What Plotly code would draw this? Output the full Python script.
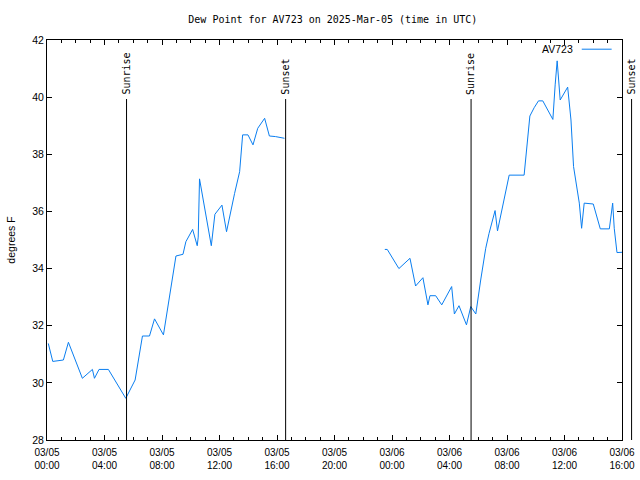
import plotly.graph_objects as go
from datetime import datetime, timedelta

# ---- data ----
t0 = datetime(2025, 3, 5, 0, 0)
hours = [0.09, 0.40, 1.14, 1.49, 2.46, 3.16, 3.30, 3.62, 4.27, 5.48, 6.13, 6.64, 7.13,
         7.48, 8.10, 8.97, 9.46, 9.66, 10.13, 10.45, 10.52, 10.61, 11.43, 11.68, 12.17,
         12.49, 13.05, 13.40, 13.61, 13.98, 14.33, 14.66, 15.14, 15.47, 15.89, 16.52,
         20.0,
         23.50, 23.67, 24.48, 25.25, 25.64, 26.15, 26.50, 26.64, 27.04, 27.46, 28.15,
         28.34, 28.66, 29.18, 29.48, 29.83, 30.17, 30.52, 30.75, 31.17, 31.34, 31.76,
         32.15, 33.19, 33.36, 33.59, 33.89, 34.19, 34.49, 35.19, 35.35, 35.49, 35.70,
         36.22, 36.45, 36.63, 37.03, 37.19, 37.37, 38.00, 38.49, 39.12, 39.35, 39.46,
         39.65, 40.00]
dewpoint = [31.38, 30.75, 30.80, 31.42, 30.16, 30.47, 30.16, 30.47, 30.47, 29.46, 30.10,
            31.64, 31.64, 32.24, 31.68, 34.44, 34.50, 34.94, 35.37, 34.80, 35.10, 37.14,
            34.80, 35.90, 36.22, 35.29, 36.63, 37.39, 38.68, 38.68, 38.33, 38.91, 39.26,
            38.64, 38.62, 38.56,
            None,
            34.67, 34.67, 34.00, 34.36, 33.39, 33.68, 32.73, 33.05, 33.05, 32.73, 33.37,
            32.41, 32.70, 32.03, 32.67, 32.41, 33.60, 34.71, 35.23, 36.03, 35.32, 36.29,
            37.27, 37.27, 38.21, 39.34, 39.63, 39.87, 39.87, 39.22, 40.43, 41.27, 39.90,
            40.35, 39.20, 37.57, 36.29, 35.41, 36.29, 36.26, 35.39, 35.39, 36.29, 35.41,
            34.56, 34.57]
times = [t0 + timedelta(hours=h) for h in hours]

x_start = "2025-03-05 00:00"
x_end = "2025-03-06 16:00"
tick_vals = ["2025-03-05 00:00", "2025-03-05 04:00", "2025-03-05 08:00", "2025-03-05 12:00",
             "2025-03-05 16:00", "2025-03-05 20:00", "2025-03-06 00:00", "2025-03-06 04:00",
             "2025-03-06 08:00", "2025-03-06 12:00", "2025-03-06 16:00"]
tick_text = ["03/05<br>00:00", "03/05<br>04:00", "03/05<br>08:00", "03/05<br>12:00",
             "03/05<br>16:00", "03/05<br>20:00", "03/06<br>00:00", "03/06<br>04:00",
             "03/06<br>08:00", "03/06<br>12:00", "03/06<br>16:00"]
y_ticks = [28, 30, 32, 34, 36, 38, 40, 42]

sun_times = ["2025-03-05 05:32", "2025-03-05 16:36", "2025-03-06 05:30", "2025-03-06 16:40"]
sun_labels = ["Sunrise", "Sunset", "Sunrise", "Sunset"]

series_name = "AV723"
line_color = "#0a7ef0"
mono = "DejaVu Sans Mono"
sans = "Liberation Sans"

fig = go.Figure()
fig.add_trace(go.Scatter(x=times, y=dewpoint, mode="lines", name=series_name,
                         line=dict(color=line_color, width=1), connectgaps=False,
                         showlegend=False))

fmt = "%Y-%m-%d %H:%M"
ts = datetime.strptime(x_start, fmt)
te = datetime.strptime(x_end, fmt)
span = (te - ts).total_seconds()
line_top = 0.8525
for st, lab in zip(sun_times, sun_labels):
    frac = (datetime.strptime(st, fmt) - ts).total_seconds() / span
    fig.add_shape(type="line", xref="paper", yref="paper", x0=frac, x1=frac,
                  y0=0, y1=line_top, line=dict(color="black", width=1))
    fig.add_annotation(xref="paper", yref="paper", x=frac, y=line_top + 0.005,
                       text=lab, textangle=-90, showarrow=False, xanchor="center",
                       yanchor="bottom", font=dict(family=mono, size=10, color="black"))

# legend imitation (gnuplot style: text then line sample)
fig.add_annotation(xref="paper", yref="paper", x=0.918, y=0.977, text=series_name,
                   showarrow=False, xanchor="right", yanchor="middle",
                   font=dict(family=sans, size=10.5, color="black"))
fig.add_shape(type="line", xref="paper", yref="paper", x0=0.93, x1=0.982, y0=0.977, y1=0.977,
              line=dict(color=line_color, width=1))

fig.update_layout(
    width=640, height=480,
    margin=dict(l=47, r=18, t=40, b=40),
    paper_bgcolor="white", plot_bgcolor="white",
    title=dict(text="Dew Point for AV723 on 2025-Mar-05 (time in UTC)", x=0.52, xanchor="center",
               y=0.96, yanchor="middle", font=dict(family=mono, size=10, color="black")),
    font=dict(family=sans, size=10, color="black"),
    showlegend=False,
)
fig.update_xaxes(type="date", range=[x_start, x_end], tickvals=tick_vals, ticktext=tick_text,
                 ticks="inside", ticklen=5, tickcolor="black", showgrid=False, zeroline=False,
                 showline=True, linecolor="black", linewidth=1, mirror="allticks",
                 automargin=False, ticklabelstandoff=3,
                 minor=dict(ticks="inside", dtick=3600000, ticklen=3, tickcolor="black",
                            showgrid=False),
                 tickfont=dict(family=sans, size=10))
fig.update_yaxes(range=[28, 42], tickvals=y_ticks, ticks="inside", ticklen=5, tickcolor="black",
                 showgrid=False, zeroline=False, showline=True, linecolor="black", linewidth=1,
                 mirror="allticks", automargin=False, tickfont=dict(family=sans, size=10.5),
                 title=dict(text="degrees F", font=dict(family=sans, size=10.5), standoff=14))

fig.write_html("out.html")
